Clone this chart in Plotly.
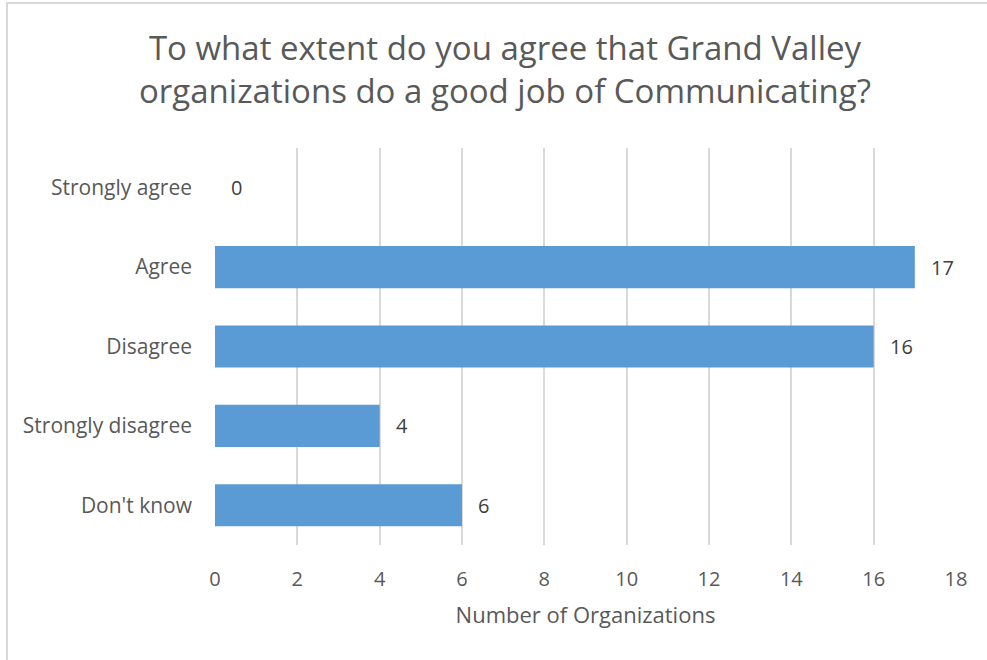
import plotly.graph_objects as go

categories = ["Strongly agree", "Agree", "Disagree", "Strongly disagree", "Don't know"]
counts = [0, 17, 16, 4, 6]
x_ticks = [0, 2, 4, 6, 8, 10, 12, 14, 16, 18]

W, H = 987, 660
L, R, T, B = 215, 31, 148, 115
pw, ph = W - L - R, H - T - B

def px_x(p):
    return (p - L) / pw

def px_y(p):
    return (H - B - p) / ph

fig = go.Figure(go.Bar(
    y=categories,
    x=counts,
    orientation="h",
    marker=dict(color="#5B9BD5", line=dict(width=0)),
    cliponaxis=False,
))

# value labels to the right of each bar end
for cat, v in zip(categories, counts):
    fig.add_annotation(
        x=v, y=cat, text=str(v), showarrow=False,
        xanchor="left", yanchor="middle", xshift=14,
        font=dict(size=20, color="#404040", family="Open Sans"),
    )

fig.update_layout(
    width=W, height=H,
    margin=dict(l=L, r=R, t=T, b=B),
    paper_bgcolor="white",
    plot_bgcolor="white",
    bargap=0.47,
    font=dict(family="Open Sans", color="#595959"),
    title=dict(
        text="To what extent do you agree that Grand Valley<br>organizations do a good job of Communicating?",
        x=505 / W, xanchor="center",
        y=1 - 60 / H, yanchor="middle",
        font=dict(size=33, color="#595959", family="Open Sans"),
    ),
    xaxis=dict(
        range=[0, 18],
        tickvals=x_ticks,
        showgrid=True, gridcolor="#D9D9D9", gridwidth=2,
        zeroline=False, showline=False,
        tickfont=dict(size=20, color="#595959"),
        ticklen=0, ticklabelstandoff=20,
        title=dict(text="Number of Organizations", font=dict(size=22, color="#595959"), standoff=16),
    ),
    yaxis=dict(
        categoryorder="array",
        categoryarray=categories[::-1],
        showgrid=False, zeroline=False, showline=False,
        tickfont=dict(size=21, color="#595959"),
        ticks="", ticklen=0, ticklabelstandoff=22,
    ),
    showlegend=False,
    shapes=[dict(
        type="rect", xref="paper", yref="paper",
        x0=px_x(7), x1=px_x(W + 20),
        y0=px_y(H + 20), y1=px_y(3),
        line=dict(color="#D9D9D9", width=2),
        fillcolor="rgba(0,0,0,0)", layer="below",
    )],
)

fig.write_html("out.html")
